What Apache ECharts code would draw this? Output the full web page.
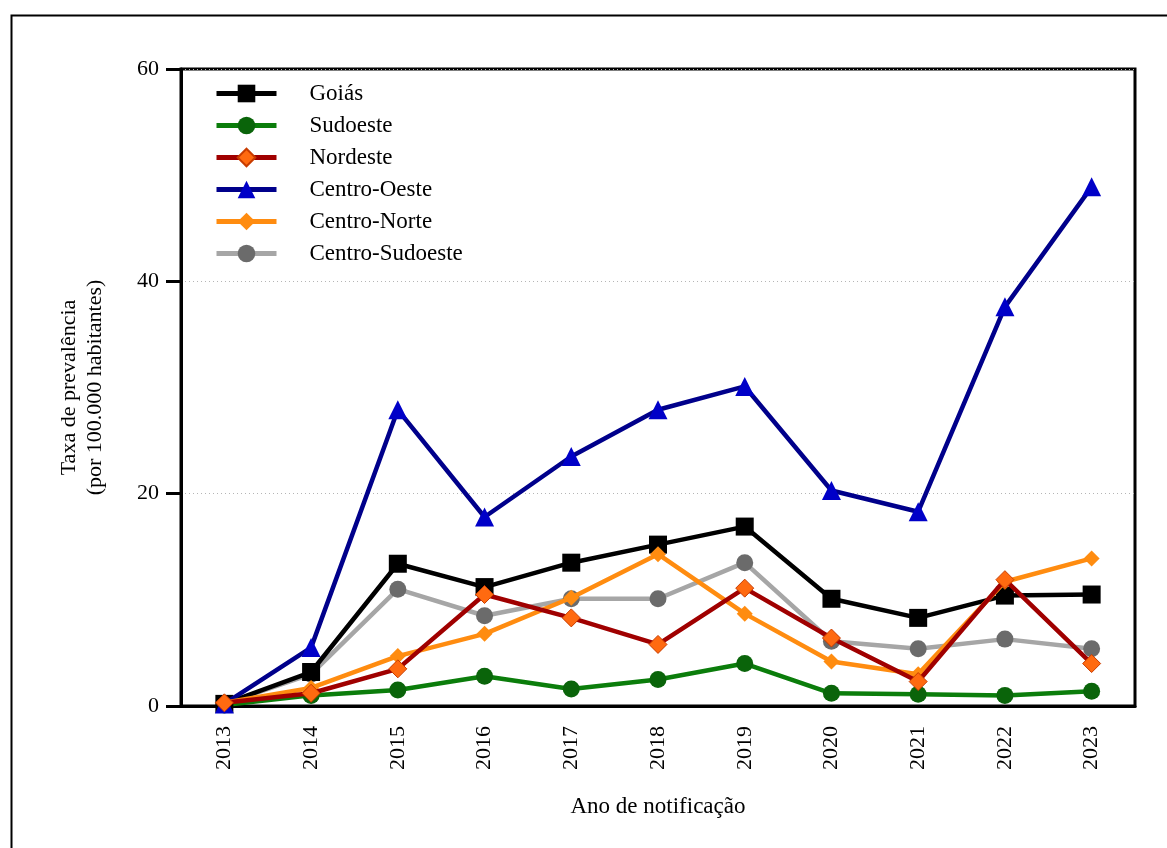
<!DOCTYPE html>
<html>
<head>
<meta charset="utf-8">
<script src="https://cdn.jsdelivr.net/npm/echarts@6/dist/echarts.min.js"></script>
<style>
  html, body { margin: 0; padding: 0; background: #fff; }
  #chart { width: 1167px; height: 848px; }
</style>
</head>
<body>
<div id="chart"></div>
<script>
// Prevalence rate per 100,000 inhabitants by year and region
const years = ['2013', '2014', '2015', '2016', '2017', '2018', '2019', '2020', '2021', '2022', '2023'];
const goias          = [0.2, 3.2, 13.4, 11.2, 13.5, 15.2, 16.9, 10.1, 8.3, 10.4, 10.5];
const sudoeste       = [0.1, 1.0, 1.5, 2.8, 1.6, 2.5, 4.0, 1.2, 1.1, 1.0, 1.4];
const nordeste       = [0.3, 1.2, 3.5, 10.5, 8.3, 5.8, 11.1, 6.4, 2.3, 11.9, 4.0];
const centroOeste    = [0.2, 5.5, 27.9, 17.8, 23.5, 27.9, 30.1, 20.3, 18.3, 37.6, 48.9];
const centroNorte    = [0.3, 1.7, 4.7, 6.8, 10.2, 14.3, 8.7, 4.2, 3.0, 11.7, 13.9];
const centroSudoeste = [0.2, 3.0, 11.0, 8.5, 10.1, 10.1, 13.5, 6.1, 5.4, 6.3, 5.4];
const yTicks = [0, 20, 40, 60];

const FONT = "'Liberation Serif', 'Times New Roman', serif";

function lineSeries(name, data, lineColor, symbol, size, markColor, z, border) {
  return {
    name, type: 'line', data, symbol, symbolSize: size, z,
    showAllSymbol: true,
    lineStyle: { color: lineColor, width: 4.5 },
    itemStyle: Object.assign({ color: markColor }, border || {}),
    emphasis: { disabled: true },
    animation: false
  };
}

const chart = echarts.init(document.getElementById('chart'), null, { renderer: 'canvas' });
chart.setOption({
  backgroundColor: '#fff',
  animation: false,
  textStyle: { fontFamily: FONT, color: '#000' },
  graphic: [{
    type: 'rect', left: 9, top: 13, silent: true,
    shape: { x: 0, y: 0, width: 1200, height: 900 },
    style: { fill: 'none', stroke: '#000', lineWidth: 2 }
  }],
  grid: {
    left: 181, right: 32, top: 69, bottom: 142,
    show: true, borderColor: '#000', borderWidth: 3, backgroundColor: 'transparent'
  },
  legend: {
    orient: 'vertical', left: 209, top: 77,
    itemWidth: 60, itemHeight: 22, itemGap: 9,
    lineStyle: { width: 5 },
    textStyle: { fontFamily: FONT, fontSize: 23, color: '#000', lineHeight: 22, padding: [0, 0, 0, 28] },
    data: ['Goiás', 'Sudoeste', 'Nordeste', 'Centro-Oeste', 'Centro-Norte', 'Centro-Sudoeste']
  },
  xAxis: {
    type: 'category', data: years, boundaryGap: true,
    name: 'Ano de notificação', nameLocation: 'middle', nameGap: 89,
    nameTextStyle: { fontFamily: FONT, fontSize: 23, color: '#000' },
    axisLine: { lineStyle: { color: '#000', width: 3 } },
    axisTick: { alignWithLabel: true, length: 15, lineStyle: { color: '#000', width: 3 } },
    axisLabel: { rotate: 90, margin: 20, fontFamily: FONT, fontSize: 22, color: '#000' },
    splitLine: { show: false }
  },
  yAxis: {
    type: 'value', min: 0, max: 60, interval: 20,
    name: 'Taxa de prevalência\n(por 100.000 habitantes)', nameLocation: 'middle', nameGap: 73,
    nameTextStyle: { fontFamily: FONT, fontSize: 22, color: '#000', lineHeight: 26 },
    axisLine: { show: true, lineStyle: { color: '#000', width: 3 } },
    axisTick: { show: true, length: 15, lineStyle: { color: '#000', width: 3 } },
    axisLabel: {
      margin: 22, fontFamily: FONT, fontSize: 22, color: '#000',
      formatter: v => (yTicks.includes(v) ? String(v) : '')
    },
    splitLine: { show: true, lineStyle: { color: '#b5b5b5', width: 1, type: [1, 3] } }
  },
  series: [
    lineSeries('Centro-Sudoeste', centroSudoeste, '#a6a6a6', 'circle', 17, '#6b6b6b', 2),
    lineSeries('Sudoeste', sudoeste, '#0b7d0b', 'circle', 17, '#0a640a', 3),
    lineSeries('Goiás', goias, '#000000', 'rect', 18, '#000000', 4),
    lineSeries('Centro-Oeste', centroOeste, '#00008b', 'triangle', 19, '#0000c8', 5),
    lineSeries('Centro-Norte', centroNorte, '#ff8c10', 'diamond', 16, '#ff8c10', 6),
    lineSeries('Nordeste', nordeste, '#a00000', 'diamond', 18, '#ff6a10', 7,
      { borderColor: '#c83c00', borderWidth: 1 })
  ]
});
</script>
</body>
</html>
